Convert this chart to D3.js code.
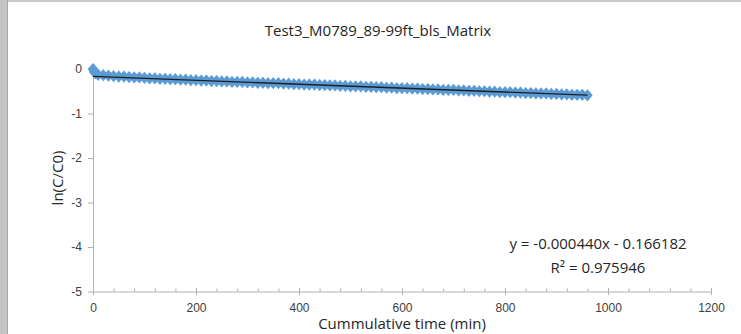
<!DOCTYPE html>
<html>
<head>
<meta charset="utf-8">
<script src="https://cdn.jsdelivr.net/npm/d3@7"></script>
<style>
  body { margin: 0; background: #fff; }
  svg { display: block; }
</style>
</head>
<body>
<svg id="vis" width="741" height="334"></svg>
<script>
// Datos
const TIEMPO = [0, 2, 5, 10, 20, 30, 40, 50, 60, 70, 80, 90, 100, 110, 120, 130, 140, 150, 160, 170, 180, 190,
  200, 210, 220, 230, 240, 250, 260, 270, 280, 290, 300, 310, 320, 330, 340, 350, 360, 370, 380, 390,
  400, 410, 420, 430, 440, 450, 460, 470, 480, 490, 500, 510, 520, 530, 540, 550, 560, 570, 580, 590,
  600, 610, 620, 630, 640, 650, 660, 670, 680, 690, 700, 710, 720, 730, 740, 750, 760, 770, 780, 790,
  800, 810, 820, 830, 840, 850, 860, 870, 880, 890, 900, 910, 920, 930, 940, 950, 960];
const LN_C = [0.00, -0.06, -0.10, -0.13, -0.14, -0.15, -0.16, -0.17, -0.17, -0.18, -0.19, -0.19, -0.20, -0.21, -0.21,
  -0.22, -0.22, -0.23, -0.23, -0.24, -0.24, -0.25, -0.25, -0.26, -0.26, -0.27, -0.27, -0.28, -0.28, -0.29,
  -0.29, -0.29, -0.30, -0.30, -0.31, -0.31, -0.32, -0.32, -0.32, -0.33, -0.33, -0.34, -0.34, -0.35, -0.35,
  -0.35, -0.36, -0.36, -0.37, -0.37, -0.38, -0.38, -0.39, -0.39, -0.39, -0.40, -0.40, -0.41, -0.41, -0.42,
  -0.42, -0.43, -0.43, -0.43, -0.44, -0.44, -0.45, -0.45, -0.46, -0.46, -0.47, -0.47, -0.47, -0.48, -0.48,
  -0.49, -0.49, -0.50, -0.50, -0.51, -0.51, -0.52, -0.52, -0.52, -0.53, -0.53, -0.54, -0.54, -0.55, -0.55,
  -0.55, -0.56, -0.56, -0.57, -0.57, -0.58, -0.58, -0.58, -0.59];
const X_TICKS = [0, 200, 400, 600, 800, 1000, 1200];
const X_MINOR = [40, 80, 120, 160, 240, 280, 320, 360, 440, 480, 520, 560, 640, 680, 720, 760,
  840, 880, 920, 960, 1040, 1080, 1120, 1160];
const Y_TICKS = [0, -1, -2, -3, -4, -5];
// Linea de tendencia (Excel)
const PENDIENTE = -0.000440;
const INTERCEPTO = -0.166182;
const ECUACION = ["y = -0.000440x - 0.166182", "R² = 0.975946"];

const SVG = d3.select("#vis");
const fuente = "'Open Sans', sans-serif";
const fuenteTicks = "'Liberation Sans', sans-serif";
const gris = "#b0b0b0";

// Suavizado leve para los puntos
SVG.append("defs").append("filter").attr("id", "suave")
  .append("feGaussianBlur").attr("stdDeviation", 0.6);

// Marco gris de la ventana
SVG.append("rect").attr("x", 0).attr("y", 0).attr("width", 741).attr("height", 2).attr("fill", "#c8c8c8");
SVG.append("rect").attr("x", 0).attr("y", 0).attr("width", 8).attr("height", 334).attr("fill", "#c4c4c4");
SVG.append("rect").attr("x", 7).attr("y", 0).attr("width", 1).attr("height", 334).attr("fill", "#a8a8a8");

const x = d3.scaleLinear().domain([0, 1200]).range([93, 711]);
const y = d3.scaleLinear().domain([-5, 0]).range([291.5, 69]);

// Titulo
SVG.append("text").attr("x", 378).attr("y", 36).attr("text-anchor", "middle")
  .style("font-family", fuente).style("font-size", "15px").attr("fill", "#262626")
  .text("Test3_M0789_89-99ft_bls_Matrix");

// Eje X: ticks menores hacia adentro, mayores cruzando
const ejeX = SVG.append("g").attr("transform", `translate(0,${y(-5)})`);
ejeX.append("g").attr("class", "menor")
  .call(d3.axisBottom(x).tickValues(X_MINOR).tickSize(-3).tickFormat(() => ""))
  .call(g => g.select(".domain").remove());
const mayorX = ejeX.append("g").attr("class", "mayor")
  .call(d3.axisBottom(x).tickValues(X_TICKS).tickSizeInner(3.5).tickSizeOuter(0).tickPadding(8).tickFormat(d => String(d)));
mayorX.selectAll(".tick line").attr("y1", -3.5);
ejeX.selectAll("line").attr("stroke", gris);
ejeX.selectAll(".domain").attr("stroke", gris);
mayorX.selectAll("text").style("font-family", fuenteTicks).style("font-size", "12px").attr("fill", "#404040");

// Eje Y
const ejeY = SVG.append("g").attr("transform", `translate(${x(0)},0)`)
  .call(d3.axisLeft(y).tickValues(Y_TICKS).tickSizeInner(5).tickSizeOuter(0).tickPadding(6).tickFormat(d => String(d)));
ejeY.selectAll("line").attr("stroke", gris);
ejeY.select(".domain").attr("stroke", gris);
ejeY.selectAll("text").style("font-family", fuenteTicks).style("font-size", "12px").attr("fill", "#404040");

// Titulos de ejes
SVG.append("text").attr("x", 402).attr("y", 329).attr("text-anchor", "middle")
  .style("font-family", fuente).style("font-size", "15px").attr("fill", "#262626")
  .text("Cummulative time (min)");
SVG.append("text").attr("transform", "translate(63,178) rotate(-90)").attr("text-anchor", "middle")
  .style("font-family", fuente).style("font-size", "15px").attr("fill", "#262626")
  .text("ln(C/C0)");

// Puntos (rombos)
const puntos = TIEMPO.map((t, i) => ({ t: t, v: LN_C[i] }));
const rombo = d3.symbol().type(d3.symbolDiamond).size(28);
SVG.append("g").attr("filter", "url(#suave)").selectAll("path")
  .data(puntos)
  .join("path")
  .attr("transform", d => `translate(${x(d.t)},${y(d.v)}) scale(1.5,1)`)
  .attr("d", rombo)
  .attr("fill", "#5b9bd5")
  .attr("stroke", "#5b9bd5")
  .attr("stroke-width", 1.2);

// Linea de tendencia
const tMax = d3.max(TIEMPO);
SVG.append("line")
  .attr("x1", x(0)).attr("y1", y(INTERCEPTO))
  .attr("x2", x(tMax)).attr("y2", y(PENDIENTE * tMax + INTERCEPTO))
  .attr("stroke", "#1f1f1f").attr("stroke-width", 1.3);

// Ecuacion
SVG.append("g").selectAll("text")
  .data(ECUACION)
  .join("text")
  .attr("x", 598)
  .attr("y", (d, i) => 249 + i * 24)
  .attr("text-anchor", "middle")
  .style("font-family", fuente).style("font-size", "15px").attr("fill", "#262626")
  .text(d => d);
</script>
</body>
</html>
